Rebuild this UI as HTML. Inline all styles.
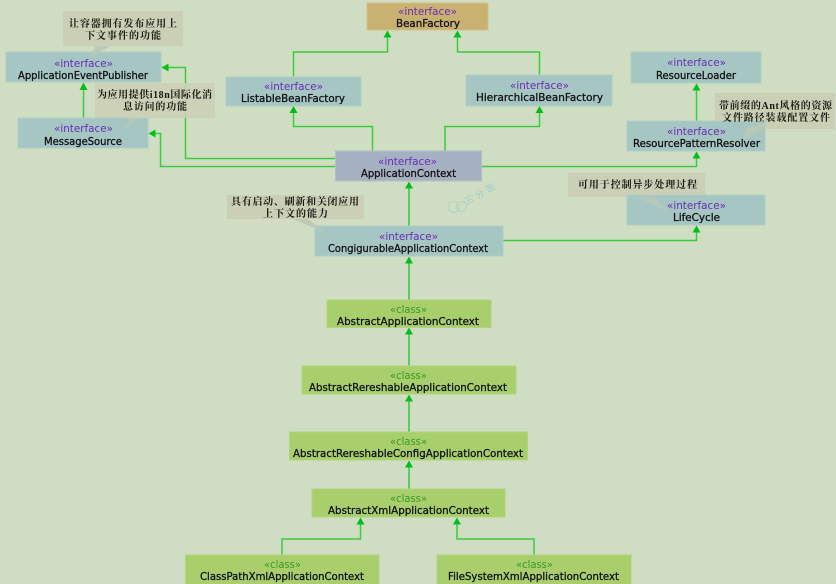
<!DOCTYPE html>
<html><head><meta charset="utf-8">
<style>
html,body{margin:0;padding:0;background:#cfdec3;width:836px;height:584px;overflow:hidden}
svg{display:block;filter:blur(.35px)}
.i{fill:#a5c6c2;stroke:#b0cfc6;stroke-width:1}
.c{fill:#a8cf6c;stroke:#b2d47c;stroke-width:1}
.l{fill:none;stroke:#3fc93f;stroke-width:1.5}
.a{fill:#00bf1a}
.n{fill:#cbcfb6}
.t{fill:#b9c8b4;opacity:.85}
text{font-family:"Liberation Sans",sans-serif;font-size:11.5px;text-anchor:start}
.nm{font-family:"DejaVu Sans",sans-serif;font-size:10.5px;font-weight:500;fill:#111;stroke:#111;stroke-width:.3px}
.si{font-family:"DejaVu Sans",sans-serif;font-size:11px;fill:#6a2db5}
.sc{font-family:"DejaVu Sans",sans-serif;font-size:11px;fill:#3a9a1f}
.z{font-family:"Liberation Serif","Noto Serif CJK SC",serif;font-size:10px;font-weight:700;fill:#1a1a10}
</style></head><body>
<svg width="836" height="584" viewBox="0 0 836 584" xmlns="http://www.w3.org/2000/svg">
<rect width="836" height="584" fill="#cfdec3"/>

<!-- connectors -->
<path class="l" d="M372.5 151V126.5H293.5V112"/>
<path class="l" d="M293.5 77V52H387.5V37"/>
<path class="l" d="M539.5 75V52H457.5V37"/>
<path class="l" d="M445 151V126.5H539.5V112"/>
<path class="l" d="M335 158.5H185.5V67.5H168"/>
<path class="l" d="M335 166.5H160.5V133.5H155"/>
<path class="l" d="M482 166.5H696.5V158"/>
<path class="l" d="M696.5 121V90"/>
<path class="l" d="M503 240.5H696.5V232"/>
<path class="l" d="M83.5 118V89"/>
<path class="l" d="M409 226V188" style="stroke:#10c020;stroke-width:1.2"/>
<path class="l" d="M409 300V263" style="stroke:#10c020;stroke-width:1.2"/>
<path class="l" d="M409 366V334" style="stroke:#10c020;stroke-width:1.2"/>
<path class="l" d="M409 432V401" style="stroke:#10c020;stroke-width:1.2"/>
<path class="l" d="M409 489V466" style="stroke:#10c020;stroke-width:1.2"/>
<path class="l" d="M282 555V539H360.5V524"/>
<path class="l" d="M534 555V539H457V524"/>

<!-- arrowheads -->
<polygon class="a" points="387.5,30.5 383.5,37.5 391.5,37.5"/>
<polygon class="a" points="457.5,30.5 453.5,37.5 461.5,37.5"/>
<polygon class="a" points="293.5,106 289.5,113 297.5,113"/>
<polygon class="a" points="539.5,106 535.5,113 543.5,113"/>
<polygon class="a" points="161.5,67.5 168.5,63.5 168.5,71.5"/>
<polygon class="a" points="148.5,133.5 155.5,129.5 155.5,137.5"/>
<polygon class="a" points="83.5,82.5 79.5,90 87.5,90"/>
<polygon class="a" points="696.5,83.5 692.5,90.5 700.5,90.5"/>
<polygon class="a" points="696.5,151.5 692.5,158.5 700.5,158.5"/>
<polygon class="a" points="696.5,225.5 692.5,232.5 700.5,232.5"/>
<polygon class="a" points="409,181.5 405,188.5 413,188.5"/>
<polygon class="a" points="409,256.5 405,263.5 413,263.5"/>
<polygon class="a" points="409,327.5 405,334.5 413,334.5"/>
<polygon class="a" points="409,394.5 405,401.5 413,401.5"/>
<polygon class="a" points="409,460.5 405,467.5 413,467.5"/>
<polygon class="a" points="360.5,517.5 356.5,524.5 364.5,524.5"/>
<polygon class="a" points="457,517.5 453,524.5 461,524.5"/>

<!-- notes behind boxes -->
<rect class="n" x="63" y="11" width="120" height="35"/>
<rect class="n" x="95" y="83" width="120" height="35" fill-opacity=".9"/>
<rect class="n" x="715" y="93" width="120" height="36"/>
<rect class="n" x="568" y="173" width="137" height="24"/>
<rect class="n" x="227" y="195" width="137" height="24"/>

<!-- boxes -->
<rect class="i" x="6" y="52" width="155" height="30"/>
<rect class="i" x="18" y="118" width="130" height="30"/>
<rect class="i" x="226" y="77" width="135" height="29"/>
<rect x="367" y="3" width="121" height="27" fill="#c9b172" stroke="#d4c08a"/>
<rect class="i" x="466" y="75" width="146" height="31"/>
<rect x="335.500" y="151" width="146" height="30" fill="#a5b1c2" stroke="#b2bfca"/>
<rect class="i" x="631" y="52" width="130" height="31"/>
<rect class="i" x="627" y="121" width="138" height="30"/>
<rect class="i" x="627" y="195" width="138" height="30"/>
<rect class="i" x="315" y="226" width="188" height="30"/>
<rect class="c" x="327" y="300" width="164" height="27.500"/>
<rect class="c" x="302" y="366" width="214" height="28"/>
<rect class="c" x="289.500" y="432" width="238" height="28"/>
<rect class="c" x="312" y="489" width="193" height="28"/>
<rect class="c" x="185.500" y="555" width="193.500" height="30"/>
<rect class="c" x="437" y="555" width="194" height="30"/>

<!-- note tails -->
<polygon class="t" points="95,46 110,46 90,58"/>
<polygon class="t" points="131,118 140,118 122,131"/>
<polygon class="t" points="745,129 765,122 765,129 743,140"/>
<polygon class="t" points="636,197 653,197 671,213"/>
<polygon class="t" points="293,219 308,219 330,235"/>

<!-- stereotypes -->
<text class="si" x="54" y="67" textLength="59" lengthAdjust="spacingAndGlyphs">«interface»</text>
<text class="si" x="54" y="132" textLength="59" lengthAdjust="spacingAndGlyphs">«interface»</text>
<text class="si" x="264" y="90" textLength="59" lengthAdjust="spacingAndGlyphs">«interface»</text>
<text class="si" x="398" y="15" textLength="59" lengthAdjust="spacingAndGlyphs">«interface»</text>
<text class="si" x="510" y="89" textLength="59" lengthAdjust="spacingAndGlyphs">«interface»</text>
<text class="si" x="378" y="165" textLength="59" lengthAdjust="spacingAndGlyphs">«interface»</text>
<text class="si" x="667" y="66" textLength="59" lengthAdjust="spacingAndGlyphs">«interface»</text>
<text class="si" x="667" y="135" textLength="59" lengthAdjust="spacingAndGlyphs">«interface»</text>
<text class="si" x="667" y="209" textLength="59" lengthAdjust="spacingAndGlyphs">«interface»</text>
<text class="si" x="379" y="240" textLength="59" lengthAdjust="spacingAndGlyphs">«interface»</text>
<text class="sc" x="390" y="313" textLength="37" lengthAdjust="spacingAndGlyphs">«class»</text>
<text class="sc" x="390" y="379" textLength="37" lengthAdjust="spacingAndGlyphs">«class»</text>
<text class="sc" x="390" y="445" textLength="37" lengthAdjust="spacingAndGlyphs">«class»</text>
<text class="sc" x="390" y="502" textLength="37" lengthAdjust="spacingAndGlyphs">«class»</text>
<text class="sc" x="264" y="568" textLength="37" lengthAdjust="spacingAndGlyphs">«class»</text>
<text class="sc" x="516" y="568" textLength="37" lengthAdjust="spacingAndGlyphs">«class»</text>

<!-- names -->
<text class="nm" x="18" y="79" textLength="130" lengthAdjust="spacingAndGlyphs">ApplicationEventPublisher</text>
<text class="nm" x="44" y="145" textLength="78" lengthAdjust="spacingAndGlyphs">MessageSource</text>
<text class="nm" x="241" y="102" textLength="104" lengthAdjust="spacingAndGlyphs">ListableBeanFactory</text>
<text class="nm" x="396" y="27" textLength="64" lengthAdjust="spacingAndGlyphs">BeanFactory</text>
<text class="nm" x="476" y="101" textLength="127" lengthAdjust="spacingAndGlyphs">HierarchicalBeanFactory</text>
<text class="nm" x="361" y="177" textLength="95" lengthAdjust="spacingAndGlyphs">ApplicationContext</text>
<text class="nm" x="656" y="79" textLength="80" lengthAdjust="spacingAndGlyphs">ResourceLoader</text>
<text class="nm" x="633" y="147" textLength="127" lengthAdjust="spacingAndGlyphs">ResourcePatternResolver</text>
<text class="nm" x="673" y="221" textLength="47" lengthAdjust="spacingAndGlyphs">LifeCycle</text>
<text class="nm" x="328" y="252" textLength="160" lengthAdjust="spacingAndGlyphs">CongigurableApplicationContext</text>
<text class="nm" x="337" y="325" textLength="142" lengthAdjust="spacingAndGlyphs">AbstractApplicationContext</text>
<text class="nm" x="309" y="391" textLength="198" lengthAdjust="spacingAndGlyphs">AbstractRereshableApplicationContext</text>
<text class="nm" x="293" y="457" textLength="230" lengthAdjust="spacingAndGlyphs">AbstractRereshableConfigApplicationContext</text>
<text class="nm" x="328" y="514" textLength="161" lengthAdjust="spacingAndGlyphs">AbstractXmlApplicationContext</text>
<text class="nm" x="200" y="580" textLength="164" lengthAdjust="spacingAndGlyphs">ClassPathXmlApplicationContext</text>
<text class="nm" x="448" y="580" textLength="171" lengthAdjust="spacingAndGlyphs">FileSystemXmlApplicationContext</text>

<!-- note text -->
<text class="z" x="69" y="27" textLength="108" lengthAdjust="spacing">让容器拥有发布应用上</text>
<text class="z" x="85" y="39" textLength="76" lengthAdjust="spacing">下文事件的功能</text>
<text class="z" x="97" y="98" textLength="115" lengthAdjust="spacing">为应用提供i18n国际化消</text>
<text class="z" x="123" y="110" textLength="64" lengthAdjust="spacing">息访问的功能</text>
<text class="z" x="719" y="109" textLength="113" lengthAdjust="spacing">带前缀的Ant风格的资源</text>
<text class="z" x="722" y="121" textLength="108" lengthAdjust="spacing">文件路径装载配置文件</text>
<text class="z" x="578" y="188" textLength="119" lengthAdjust="spacing">可用于控制异步处理过程</text>
<text class="z" x="231" y="205" textLength="128" lengthAdjust="spacing">具有启动、刷新和关闭应用</text>
<text class="z" x="263" y="217" textLength="65" lengthAdjust="spacing">上下文的能力</text>

<!-- watermark -->
<g opacity=".75">
<circle cx="453.500" cy="207" r="5.500" fill="none" stroke="#a9cfc9" stroke-width="1"/>
<circle cx="461.500" cy="206.500" r="5" fill="none" stroke="#a9cfc9" stroke-width="1"/>
<text transform="translate(467,205) rotate(-30)" style="font-family:'Liberation Sans','Noto Sans CJK SC',sans-serif;font-size:9px;fill:#8fc4cc;letter-spacing:3px">三分恶</text>
</g>
</svg>
</body></html>
